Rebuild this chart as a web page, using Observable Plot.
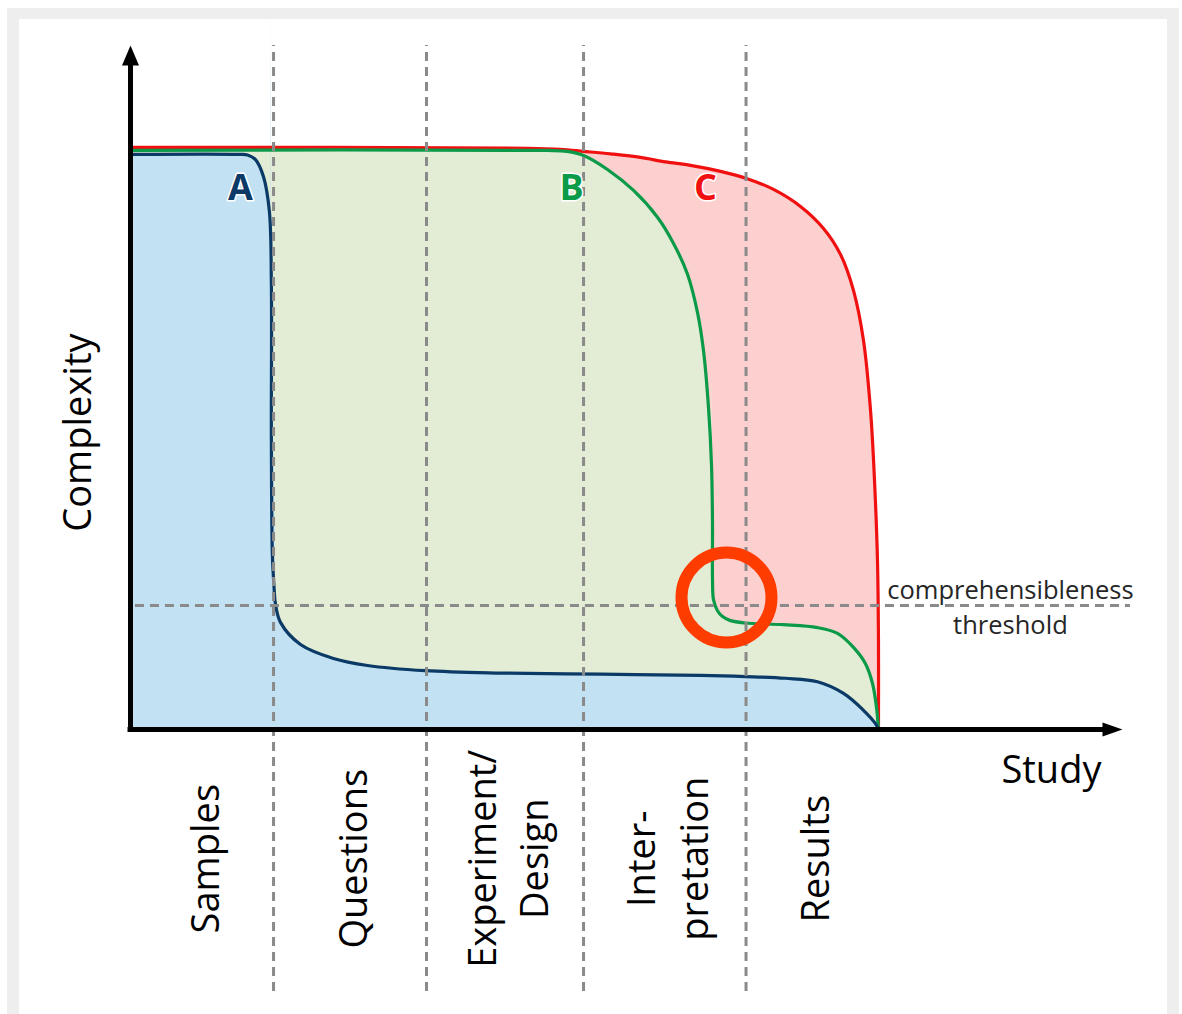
<!DOCTYPE html>
<html><head><meta charset="utf-8">
<script src="https://cdn.jsdelivr.net/npm/d3@7"></script>
<script src="https://cdn.jsdelivr.net/npm/@observablehq/plot@0.6"></script>
<style>
html,body{margin:0;padding:0;background:#fff;overflow:hidden;}
#wrap{position:relative;width:1182px;height:1014px;}
#frame{position:absolute;left:7px;top:8px;width:1148px;height:1020px;border:12px solid #eeeeee;border-top-width:11px;border-bottom:none;}
#chart{position:absolute;left:0;top:0;}
</style></head><body>
<div id="wrap"><div id="frame"></div><div id="chart"></div></div>
<script>
// Study progress (x, 0..100) vs complexity (y, 0..100)
const curveA = [[0,98.8],[11.0,98.8],[11.8,98.7],[12.6,97.9],[13.4,95.0],[14.0,89.0],[14.2,76.6],[14.2,50],[14.3,30],[14.45,25.0],[14.62,21.5],[15.12,18.4],[17.14,14.6],[20.46,12.2],[23.89,11.0],[29.74,10.1],[37.3,9.7],[47.4,9.5],[57.5,9.3],[62.0,9.1],[66.0,8.8],[69.25,8.2],[71.88,6.2],[73.89,3.3],[75.1,1.0],[75.4,0]];
const curveB = [[0,99.48],[42.0,99.48],[44.0,99.3],[45.67,98.6],[48.08,96.2],[50.71,92.6],[53.12,88.0],[54.74,83.5],[56.15,78.2],[57.16,71.6],[57.76,65.1],[58.27,55.2],[58.57,45.4],[58.67,35.4],[58.67,25.8],[58.77,22.3],[59.17,20.4],[59.68,19.4],[60.48,18.7],[62.0,18.3],[65.83,18.0],[69.25,17.5],[71.27,16.5],[72.88,14.1],[74.09,11.3],[74.8,7.9],[75.2,3.8],[75.4,0]];
const curveC = [[0,100],[40,99.85],[43.35,99.66],[45.67,99.31],[48.39,98.88],[51.41,98.28],[53.93,97.51],[56.45,96.91],[59.48,95.88],[62.1,94.67],[64.82,92.78],[67.54,89.86],[69.86,86.08],[71.57,81.62],[72.88,75.43],[73.89,66.84],[74.6,54.81],[75.0,42.78],[75.3,29.04],[75.4,15.29],[75.4,0]];
const phaseNames = ["Samples","Questions","Experiment/\nDesign","Inter-\npretation","Results"];
const phaseEdges = [0,14.42,29.84,45.67,62.05,75.4];
const threshold = 21.3;
const curveNames = ["A","B","C"];

// annotations
const curveLabels = [{t:"A",x:11.09,y:92.96,c:"#0b3a66"},{t:"B",x:44.46,y:92.96,c:"#0a9a48"},{t:"C",x:57.96,y:92.96,c:"#f01010"}];
const focus = [{x:60.08,y:22.68}];

const X = d=>d[0], Y = d=>d[1];
const arrowUp = {draw(ctx,size){const r=Math.sqrt(size/Math.PI);ctx.moveTo(0,0);ctx.lineTo(r*0.85,r*2);ctx.lineTo(-r*0.85,r*2);ctx.closePath();}};
const arrowRight = {draw(ctx,size){const r=Math.sqrt(size/Math.PI);ctx.moveTo(0,0);ctx.lineTo(-r*2,r*0.7);ctx.lineTo(-r*2,-r*0.7);ctx.closePath();}};
const dash = {stroke:"#8a8a8a", strokeWidth:3, strokeDasharray:"9,6"};

const plot = Plot.plot({
  width:1182, height:1014,
  marginLeft:130, marginRight:60, marginTop:45, marginBottom:285,
  x:{domain:[0,100], axis:null},
  y:{domain:[0,117.5], axis:null},
  style:{background:"transparent", fontFamily:"'Open Sans', sans-serif", overflow:"visible"},
  marks:[
    Plot.areaY(curveC,{x:X,y:Y,fill:"#fdd0d0",curve:"catmull-rom"}),
    Plot.areaY(curveB,{x:X,y:Y,fill:"#e3ecd4",curve:"catmull-rom"}),
    Plot.areaY(curveA,{x:X,y:Y,fill:"#c2e1f2",curve:"catmull-rom"}),
    Plot.line(curveC,{x:X,y:Y,stroke:"#f01010",strokeWidth:3.2,curve:"catmull-rom"}),
    Plot.line(curveB,{x:X,y:Y,stroke:"#0a9a48",strokeWidth:3.2,curve:"catmull-rom"}),
    Plot.line(curveA,{x:X,y:Y,stroke:"#0b3a66",strokeWidth:3.2,curve:"catmull-rom"}),
    Plot.ruleX(phaseEdges.slice(1,5),{y1:-45,y2:117.5,...dash}),
    Plot.ruleY([threshold],{x1:0.5,x2:100.8,...dash}),
    Plot.ruleX([0],{y1:-0.4,y2:114.5,stroke:"black",strokeWidth:5}),
    Plot.ruleY([0],{x1:-0.25,x2:98.2,stroke:"black",strokeWidth:5}),
    Plot.dot([0],{x:0,y:117.5,symbol:arrowUp,r:10,fill:"black"}),
    Plot.dot([0],{x:100,y:0,symbol:arrowRight,r:10,fill:"black"}),
    Plot.dot(focus,{x:"x",y:"y",r:45,stroke:"#ff3c00",strokeWidth:12,fill:"none"}),
    Plot.text(curveLabels,{x:"x",y:"y",text:"t",fill:"c",fontSize:36,fontWeight:"bold",stroke:"white",strokeWidth:3}),
    Plot.text(["Complexity"],{x:-5.24,y:51,text:d=>d,rotate:-90,fontSize:38,fill:"black"}),
    Plot.text(["Study"],{x:92.84,y:-7.04,text:d=>d,fontSize:38,fill:"black"}),
    Plot.text(["comprehensibleness\nthreshold"],{x:88.7,y:threshold,text:d=>d,fontSize:25.5,lineHeight:1.38,fill:"#262626"}),
    Plot.text(phaseNames,{x:(d,i)=>(phaseEdges[i]+phaseEdges[i+1])/2,y:-22.2,text:d=>d,rotate:-90,fontSize:38,lineHeight:1.38,fill:"black"})
  ]
});
document.getElementById("chart").appendChild(plot);
</script>
</body></html>
